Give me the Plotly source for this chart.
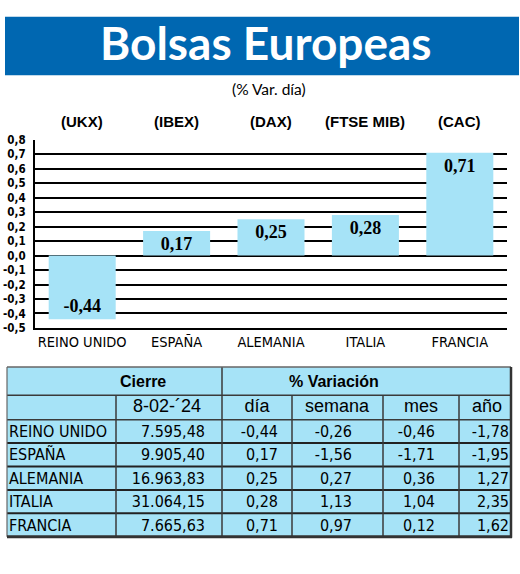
import plotly.graph_objects as go

# ---------------- data ----------------
countries = ["REINO UNIDO", "ESPAÑA", "ALEMANIA", "ITALIA", "FRANCIA"]
tickers = ["(UKX)", "(IBEX)", "(DAX)", "(FTSE MIB)", "(CAC)"]
var_dia = [-0.44, 0.17, 0.25, 0.28, 0.71]
cierre = [7595.48, 9905.40, 16963.83, 31064.15, 7665.63]
var_semana = [-0.26, -1.56, 0.27, 1.13, 0.97]
var_mes = [-0.46, -1.71, 0.36, 1.04, 0.12]
var_anio = [-1.78, -1.95, 1.27, 2.35, 1.62]
y_ticks = [-0.5, -0.4, -0.3, -0.2, -0.1, 0.0, 0.1, 0.2, 0.3, 0.4, 0.5, 0.6, 0.7, 0.8]
title = "Bolsas Europeas"
subtitle = "(% Var. día)"
fecha = "8-02-´24"
col_headers = ["día", "semana", "mes", "año"]


def es(v, dec=2):
    s = f"{v:,.{dec}f}"
    return s.replace(",", "X").replace(".", ",").replace("X", ".")


def es1(v):
    return f"{v:.1f}".replace(".", ",")


W, H = 520, 574
BAR = "#A6E3F7"
BLUE = "#0067B1"
NARROW = "DejaVu Sans Condensed, Liberation Sans Narrow, Arial Narrow, sans-serif"
SANS = "Liberation Sans, Arial, sans-serif"
SERIF = "Liberation Serif, Times New Roman, serif"

# chart geometry (pixels)
cx0, cx1 = 35, 507
cy_top, cy_bot = 136, 329
ymin, ymax = -0.5, 0.8
yd0, yd1 = 1 - cy_bot / H, 1 - cy_top / H
zero_pos = yd0 + (0 - ymin) / (ymax - ymin) * (yd1 - yd0)

fig = go.Figure()

fig.add_trace(go.Bar(
    x=countries, y=var_dia,
    marker=dict(color=BAR, line=dict(width=0)),
    text=[es(v) for v in var_dia],
    textposition="inside", insidetextanchor="end", constraintext="none",
    textfont=dict(family=SERIF, size=18, color="black", weight="bold"),
    xaxis="x", yaxis="y", hoverinfo="skip", showlegend=False,
))

# ---------------- table (pixel-space axes) ----------------
TL, TR, TT = 7, 511, 369
H1, H2 = 398, 423
ROWH = 24
col_edges = [7, 116, 222, 292, 383, 459, 511]
rows_bottom = [H2 + ROWH * (i + 1) for i in range(len(countries))]
TB = rows_bottom[-1]
row_y = [b - ROWH / 2 + 1.5 for b in rows_bottom]

data_font = dict(family=NARROW, size=16, color="black")

fig.add_trace(go.Scatter(
    x=[9] * len(countries), y=row_y, text=countries, mode="text",
    textposition="middle right", textfont=data_font,
    xaxis="x2", yaxis="y2", hoverinfo="skip", showlegend=False))

num_cols = [
    (205, [es(v) for v in cierre]),
    (278, [es(v) for v in var_dia]),
    (352, [es(v) for v in var_semana]),
    (435, [es(v) for v in var_mes]),
    (509, [es(v) for v in var_anio]),
]
for xr, txt in num_cols:
    fig.add_trace(go.Scatter(
        x=[xr] * len(txt), y=row_y, text=txt, mode="text",
        textposition="middle left", textfont=data_font,
        xaxis="x2", yaxis="y2", hoverinfo="skip", showlegend=False))

# header row 2
hdr2_x = [167, 257, 337, 421, 487]
fig.add_trace(go.Scatter(
    x=hdr2_x, y=[411] * 5, text=[fecha] + col_headers, mode="text",
    textposition="middle center", textfont=dict(family=SANS, size=18, color="black"),
    xaxis="x2", yaxis="y2", hoverinfo="skip", showlegend=False))

shapes = []
# title banner
shapes.append(dict(type="rect", xref="x2", yref="y2", x0=5, x1=519, y0=10, y1=70,
                   fillcolor=BLUE, line=dict(width=0), layer="below"))
# table background
shapes.append(dict(type="rect", xref="x2", yref="y2", x0=TL, x1=TR, y0=TT, y1=TB,
                   fillcolor=BAR, line=dict(width=0), layer="below"))
DARK = "#3a3a3a"
# horizontal lines
for yy in [H1, H2]:
    shapes.append(dict(type="line", xref="x2", yref="y2", x0=TL, x1=TR, y0=yy, y1=yy,
                       line=dict(color=DARK, width=1.5), layer="below"))
for yy in rows_bottom[:-1]:
    shapes.append(dict(type="line", xref="x2", yref="y2", x0=TL, x1=TR, y0=yy, y1=yy,
                       line=dict(color="#222", width=2), layer="below"))
# vertical lines
for xx in col_edges[1:-1]:
    y0 = TT if xx == 222 else H1
    shapes.append(dict(type="line", xref="x2", yref="y2", x0=xx, x1=xx, y0=y0, y1=TB,
                       line=dict(color=DARK, width=1.5), layer="below"))
# outer border
shapes.append(dict(type="line", xref="x2", yref="y2", x0=TL, x1=TR, y0=TT, y1=TT,
                   line=dict(color="#666", width=1.5), layer="below"))
shapes.append(dict(type="line", xref="x2", yref="y2", x0=TL, x1=TL, y0=TT, y1=TB,
                   line=dict(color="#666", width=1.2), layer="below"))
shapes.append(dict(type="line", xref="x2", yref="y2", x0=TR, x1=TR, y0=TT, y1=TB + 1,
                   line=dict(color="#333", width=2.5), layer="below"))
shapes.append(dict(type="line", xref="x2", yref="y2", x0=TL, x1=TR + 1, y0=TB, y1=TB,
                   line=dict(color="#333", width=3), layer="below"))

annotations = [
    dict(xref="x2", yref="y2", x=266, y=36, text=f"<b>{title}</b>", showarrow=False,
         font=dict(family="Lato, " + SANS, size=46, color="white"),
         xanchor="center", yanchor="middle"),
    dict(xref="x2", yref="y2", x=269, y=84, text=subtitle, showarrow=False,
         font=dict(family="Lato, " + SANS, size=15.5, color="black"),
         xanchor="center", yanchor="middle"),
    dict(xref="x2", yref="y2", x=143, y=384, text="<b>Cierre</b>", showarrow=False,
         font=dict(family=SANS, size=16, color="black"), xanchor="center", yanchor="middle"),
    dict(xref="x2", yref="y2", x=334, y=384, text="<b>% Variación</b>", showarrow=False,
         font=dict(family=SANS, size=16, color="black"), xanchor="center", yanchor="middle"),
]
for c, t in zip(countries, tickers):
    annotations.append(dict(xref="x", yref="y2", x=c, y=117, text=f"<b>{t}</b>",
                            showarrow=False, font=dict(family=SANS, size=15, color="black"),
                            xanchor="center", yanchor="middle"))

fig.update_layout(
    width=W, height=H, margin=dict(l=0, r=0, t=0, b=0),
    paper_bgcolor="white", plot_bgcolor="rgba(0,0,0,0)",
    bargap=0.29, showlegend=False,
    shapes=shapes, annotations=annotations,
    xaxis=dict(domain=[cx0 / W, cx1 / W], type="category", range=[-0.5, 4.5],
               showline=True, linecolor="black", linewidth=2, ticks="",
               showgrid=False, tickfont=dict(family=NARROW, size=14.5, color="black"),
               anchor="y", fixedrange=True),
    yaxis=dict(domain=[yd0, yd1], range=[ymin, ymax], tickmode="array",
               tickvals=y_ticks, ticktext=[es1(v) for v in y_ticks],
               showgrid=True, gridcolor="black", gridwidth=2,
               zeroline=True, zerolinecolor="black", zerolinewidth=2,
               showline=True, linecolor="black", linewidth=2, ticks="",
               ticklabelstandoff=5,
               tickfont=dict(family=NARROW, size=11.5, color="black", weight="bold"),
               anchor="x", fixedrange=True),
    xaxis3=dict(overlaying="x", anchor="free", position=zero_pos, side="bottom",
                type="linear", range=[-0.5, 4.5], tickmode="array",
                tickvals=[0.5, 1.5, 2.5, 3.5, 4.5], ticks="inside", ticklen=4,
                tickwidth=1.5, tickcolor="black", showticklabels=False,
                showgrid=False, zeroline=False, showline=False, fixedrange=True),
    xaxis2=dict(domain=[0, 1], range=[0, W], visible=False, anchor="y2", fixedrange=True),
    yaxis2=dict(domain=[0, 1], range=[H, 0], visible=False, anchor="x2", fixedrange=True),
)

fig.write_html("out.html")
